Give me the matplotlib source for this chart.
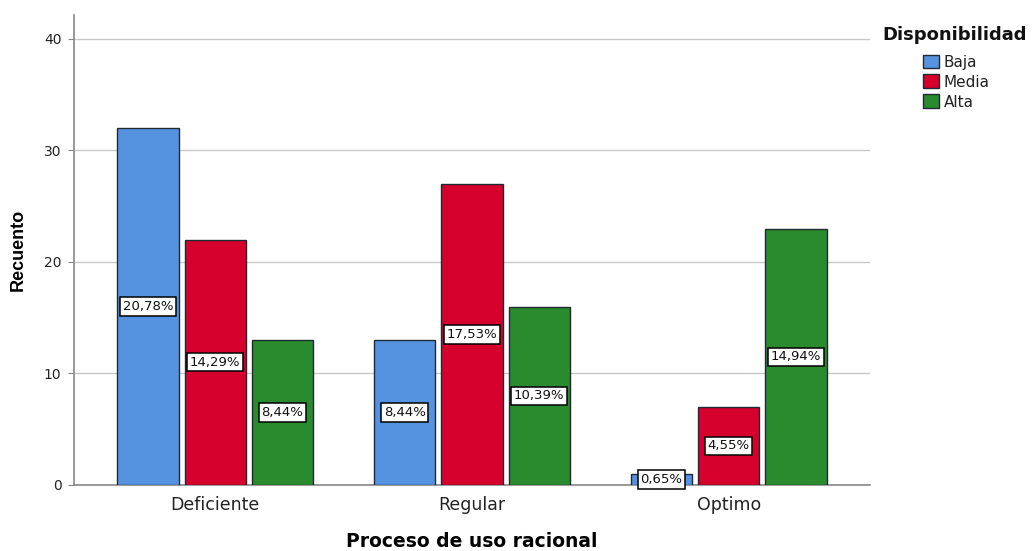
import matplotlib
matplotlib.use("Agg")
import matplotlib.pyplot as plt
from matplotlib.patches import Patch
import numpy as np

categories = ["Deficiente", "Regular", "Optimo"]
series_names = ["Baja", "Media", "Alta"]
baja = [32, 13, 1]
media = [22, 27, 7]
alta = [13, 16, 23]
colors = ["#5593E0", "#D6002C", "#2A8A2E"]
total = sum(baja) + sum(media) + sum(alta)

plt.rcParams["font.family"] = ["DejaVu Sans"]

fig = plt.figure(figsize=(10.35, 5.51), dpi=100)
ax = fig.add_axes([74 / 1035, (551 - 485) / 551, (870 - 74) / 1035, (485 - 15) / 551])

x = np.arange(len(categories))
step = 0.262
width = 0.238
for i, (vals, name, col) in enumerate(zip([baja, media, alta], series_names, colors)):
    pos = x + (i - 1) * step
    ax.bar(pos, vals, width=width, color=col, edgecolor="#1f2a33", linewidth=1.0,
           label=name, zorder=3)
    for px, v in zip(pos, vals):
        pct = f"{100 * v / total:.2f}%".replace(".", ",")
        ax.text(px, v / 2, pct, ha="center", va="center", fontsize=9.5, zorder=5,
                color="#111111",
                bbox=dict(boxstyle="square,pad=0.2", facecolor="white",
                          edgecolor="black", linewidth=1.1))

ax.set_xlim(-0.55, 2.55)
ax.set_ylim(0, 42.15)
ax.set_yticks([0, 10, 20, 30, 40])
ax.set_xticks(x)
ax.set_xticklabels(categories, fontsize=12.5, color="#222222")
ax.tick_params(axis="y", labelsize=10, colors="#222222", length=4, color="#888888", pad=5)
ax.tick_params(axis="x", length=0, pad=8)
ax.yaxis.grid(True, color="#c8c8c8", linewidth=1.0, zorder=0)
ax.set_axisbelow(True)
for s in ["top", "right"]:
    ax.spines[s].set_visible(False)
ax.spines["left"].set_color("#888888")
ax.spines["bottom"].set_color("#888888")
ax.spines["left"].set_linewidth(1.2)
ax.spines["bottom"].set_linewidth(1.2)

ax.set_ylabel("Recuento", fontsize=13, fontweight="bold", labelpad=12,
              family="Liberation Sans")
ax.set_xlabel("Proceso de uso racional", fontsize=13.5, fontweight="bold", labelpad=13)

fig.text(882 / 1035, 1 - 35 / 551, "Disponibilidad", fontsize=13, fontweight="bold",
         ha="left", va="center", color="#111111")
handles = [Patch(facecolor=c, edgecolor="#1f2a33", linewidth=1.0, label=n)
           for c, n in zip(colors, series_names)]
leg = fig.legend(handles=handles, loc="upper left",
                 bbox_to_anchor=(921 / 1035, 1 - 53 / 551),
                 frameon=False, fontsize=11,
                 handlelength=1.05, handleheight=1.0, handletextpad=0.35,
                 labelspacing=0.32, borderpad=0.1, borderaxespad=0)
for t in leg.get_texts():
    t.set_color("#222222")

fig.savefig("out.png", dpi=100, facecolor="white")
